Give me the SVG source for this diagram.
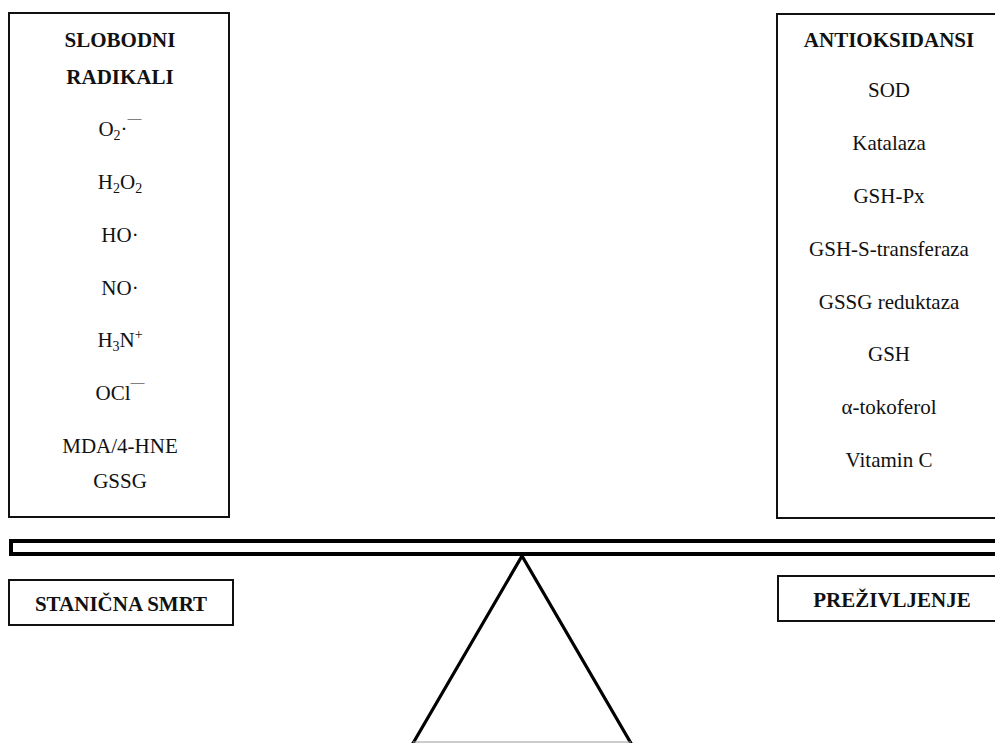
<svg xmlns="http://www.w3.org/2000/svg" width="995" height="743" viewBox="0 0 995 743">
<style>
.box{fill:#fff;stroke:#111;stroke-width:2}
.t{font-family:"Liberation Serif","Times New Roman",serif;font-size:21px;fill:#111;text-anchor:middle}
.b{font-weight:bold}
.sub{font-size:14px}
.sup{font-size:14px}
.heavy{fill:none;stroke:#000;stroke-width:4}
.tri{fill:none;stroke:#000;stroke-width:3.2}
</style>
<rect width="995" height="743" fill="#fff"/>
<g id="slobodni-radikali">
<rect class="box" x="9" y="13" width="220" height="504"/>
<text class="t b" x="120" y="47">SLOBODNI</text>
<text class="t b" x="120" y="84">RADIKALI</text>
<text class="t" x="120" y="136">O<tspan class="sub" dy="4">2</tspan><tspan dy="-4">·</tspan><tspan class="sup" dy="-13">—</tspan></text>
<text class="t" x="120" y="189">H<tspan class="sub" dy="4">2</tspan><tspan dy="-4">O</tspan><tspan class="sub" dy="4">2</tspan></text>
<text class="t" x="120" y="242">HO·</text>
<text class="t" x="120" y="295">NO·</text>
<text class="t" x="120" y="347">H<tspan class="sub" dy="4">3</tspan><tspan dy="-4">N</tspan><tspan class="sup" dy="-8">+</tspan></text>
<text class="t" x="120" y="400">OCl<tspan class="sup" dy="-13">—</tspan></text>
<text class="t" x="120" y="453">MDA/4-HNE</text>
<text class="t" x="120" y="488">GSSG</text>
</g>
<g id="antioksidansi">
<rect class="box" x="777" y="14" width="230" height="504"/>
<text class="t b" x="889" y="47">ANTIOKSIDANSI</text>
<text class="t" x="889" y="97">SOD</text>
<text class="t" x="889" y="150">Katalaza</text>
<text class="t" x="889" y="203">GSH-Px</text>
<text class="t" x="889" y="256">GSH-S-transferaza</text>
<text class="t" x="889" y="309">GSSG reduktaza</text>
<text class="t" x="889" y="361">GSH</text>
<text class="t" x="889" y="414">α-tokoferol</text>
<text class="t" x="889" y="467">Vitamin C</text>
</g>
<g id="stanicna-smrt">
<rect class="box" x="9" y="580" width="224" height="45"/>
<text class="t b" x="121" y="611">STANIČNA SMRT</text>
</g>
<g id="prezivljenje">
<rect class="box" x="778" y="576" width="230" height="45"/>
<text class="t b" x="892" y="607">PREŽIVLJENJE</text>
</g>
<g id="vaga">
<rect class="heavy" x="11" y="541" width="1000" height="13"/>
<polyline class="tri" points="412,745 522,556 632,745"/>
<line x1="413" y1="742" x2="631" y2="742" stroke="#999" stroke-width="1"/>
</g>
</svg>
